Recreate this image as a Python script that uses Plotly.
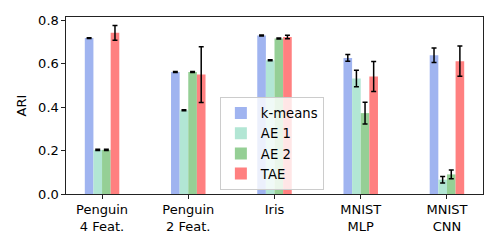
import plotly.graph_objects as go

categories = ["Penguin<br>4 Feat.", "Penguin<br>2 Feat.", "Iris", "MNIST<br>MLP", "MNIST<br>CNN"]
series_names = ["k-means", "AE 1", "AE 2", "TAE"]
kmeans = [0.717, 0.561, 0.729, 0.626, 0.638]
kmeans_err = [0.002, 0.002, 0.002, 0.015, 0.033]
ae1 = [0.203, 0.385, 0.615, 0.531, 0.066]
ae1_err = [0.003, 0.002, 0.002, 0.038, 0.015]
ae2 = [0.203, 0.561, 0.715, 0.372, 0.090]
ae2_err = [0.003, 0.002, 0.002, 0.050, 0.020]
tae = [0.741, 0.549, 0.722, 0.540, 0.611]
tae_err = [0.034, 0.128, 0.008, 0.069, 0.070]
y_ticks = [0.0, 0.2, 0.4, 0.6, 0.8]

colors = ["rgb(160,180,240)", "rgb(178,230,212)", "rgb(149,207,149)", "rgb(255,128,128)"]
values = [kmeans, ae1, ae2, tae]
errors = [kmeans_err, ae1_err, ae2_err, tae_err]
offsets = [-0.15, -0.05, 0.05, 0.15]

FONT = "DejaVu Sans"
fig = go.Figure()
x_idx = list(range(len(categories)))
for name, vals, errs, col, off in zip(series_names, values, errors, colors, offsets):
    fig.add_trace(go.Bar(
        x=[i + off for i in x_idx], y=vals, name=name, width=0.1,
        marker=dict(color=col, line=dict(width=0)),
        error_y=dict(type="data", array=errs, color="black", thickness=1.5, width=2.5),
    ))

fig.update_layout(
    width=498, height=249,
    margin=dict(l=66, r=15, t=17, b=55),
    paper_bgcolor="white", plot_bgcolor="white",
    font=dict(family=FONT, size=13, color="black"),
    barmode="overlay",
    showlegend=True,
    legend=dict(x=0.369, y=0.548, xanchor="left", yanchor="top",
                bgcolor="rgba(255,255,255,0.8)", bordercolor="#cccccc", borderwidth=1,
                font=dict(size=13.2), tracegroupgap=0, itemwidth=30),
    xaxis=dict(range=[-0.418, 4.418], tickmode="array", tickvals=x_idx, ticktext=categories,
               automargin=False,
               showgrid=False, zeroline=False, showline=True, linecolor="#222222", linewidth=1.2,
               mirror=True, ticks="outside", ticklen=3.5, tickcolor="#222222",
               tickfont=dict(size=13)),
    yaxis=dict(range=[0, 0.814], tickmode="array", tickvals=y_ticks,
               ticktext=[f"{v:.1f}" for v in y_ticks], automargin=False,
               title=dict(text="ARI", standoff=8, font=dict(size=13)),
               showgrid=False, zeroline=False, showline=True, linecolor="#222222", linewidth=1.2,
               mirror=True, ticks="outside", ticklen=3.5, tickcolor="#222222",
               tickfont=dict(size=13)),
)
fig.write_html("out.html", config={"displayModeBar": False},
               post_script="document.body.style.margin='0px';document.body.style.overflow='hidden';")
